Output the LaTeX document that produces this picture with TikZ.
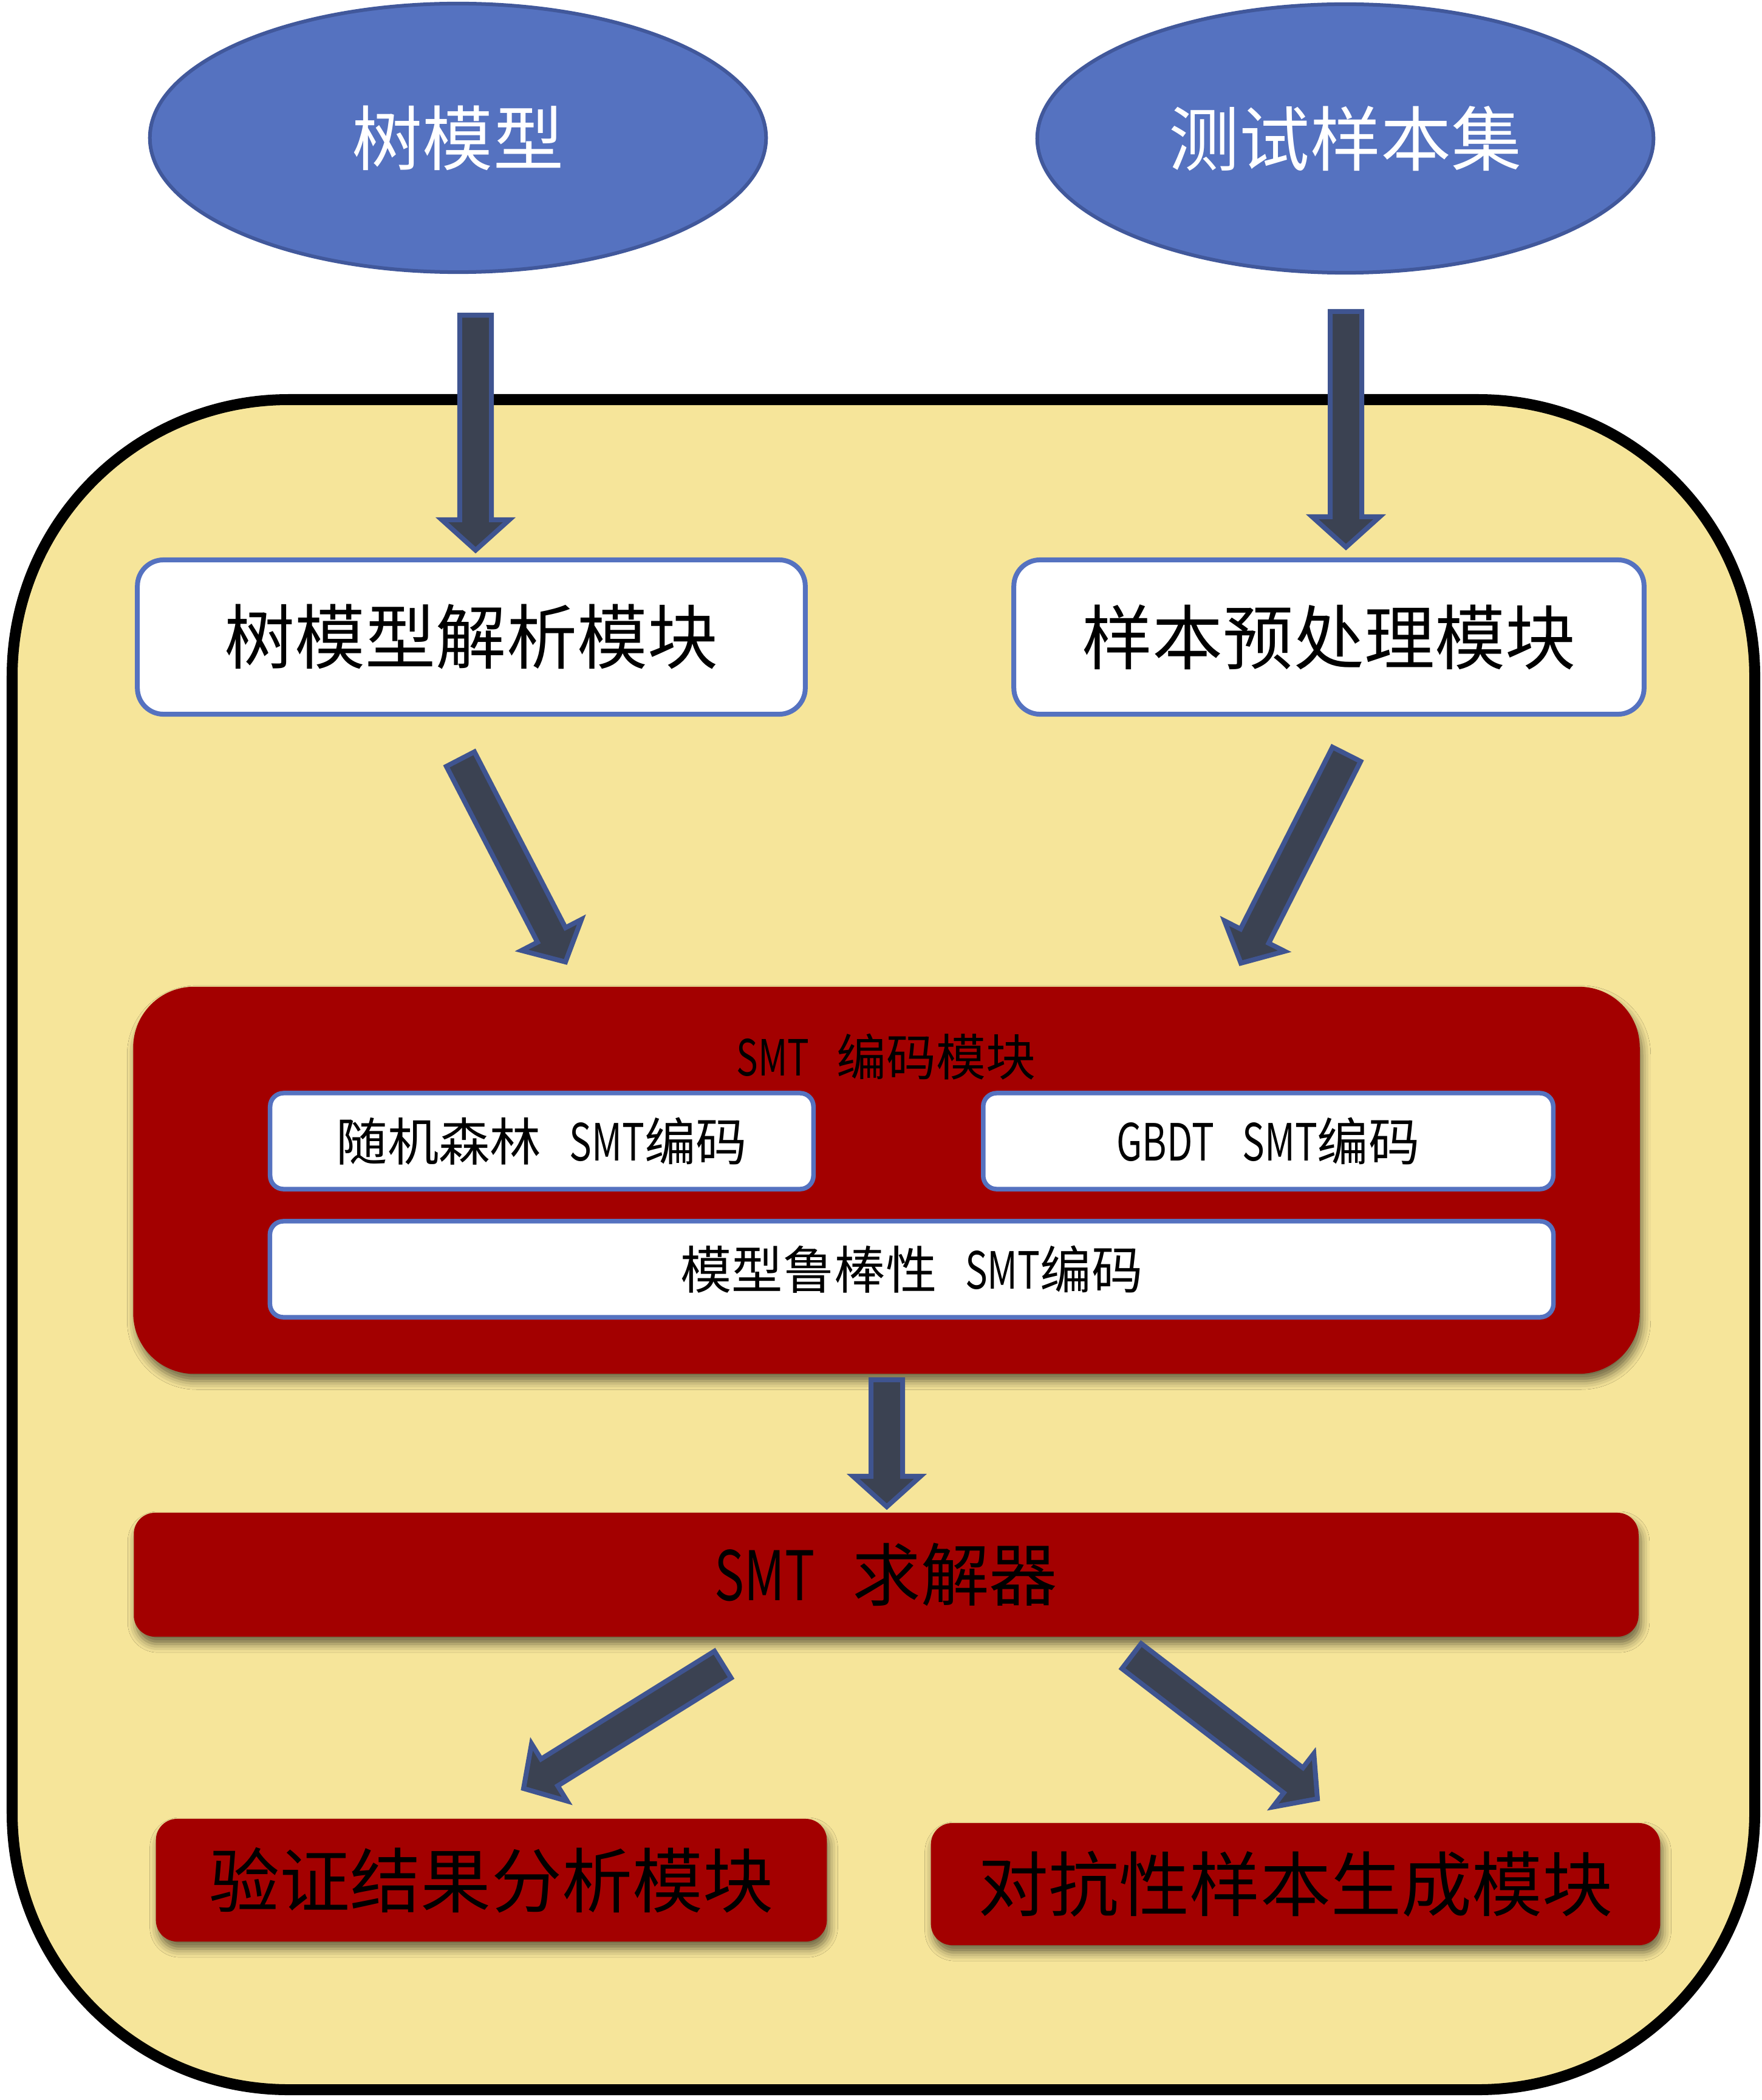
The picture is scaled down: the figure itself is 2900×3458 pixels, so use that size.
\documentclass[tikz,border=0pt]{standalone}
\usepackage{graphicx}
\usepackage{fontspec}
\setmainfont{Noto Sans CJK SC}
\usetikzlibrary{calc,shapes.geometric,shadows.blur}

\definecolor{panel}{HTML}{F6E59A}
\definecolor{deepred}{HTML}{A30000}
\definecolor{ellfill}{HTML}{5572C0}
\definecolor{ellline}{HTML}{41589B}
\definecolor{boxline}{HTML}{5572C0}
\definecolor{arrfill}{HTML}{3B4252}
\definecolor{arrline}{HTML}{3F5490}

% narrow Latin letters and the wide gap after them
\newcommand\narrowlat[1]{\scalebox{0.73}[1]{#1}}
\newcommand\latgap{\hspace{0.55em}}

% block arrow from tail coordinate #1 to tip coordinate #2
\newcommand\blockarrow[2]{%
  \coordinate (hb) at ($(#2)!0.5cm!(#1)$);
  \draw[blockarr] ($(#1)!0.26cm!90:(#2)$) -- ($(hb)!0.26cm!-90:(#1)$)
    -- ($(hb)!0.555cm!-90:(#1)$) -- (#2) -- ($(hb)!0.555cm!90:(#1)$)
    -- ($(hb)!0.26cm!90:(#1)$) -- ($(#1)!0.26cm!-90:(#2)$) -- cycle;}

\tikzset{
  blockarr/.style={fill=arrfill, draw=arrline, line width=0.08cm, line join=miter},
  ellnode/.style={ellipse, fill=ellfill, draw=ellline, line width=0.06cm,
    minimum width=10.14cm, minimum height=4.42cm, inner sep=0pt,
    text=white, font=\fontsize{33pt}{36pt}\selectfont},
  topbox/.style={rectangle, rounded corners=0.43cm, fill=white, draw=boxline,
    line width=0.08cm, minimum height=2.54cm, inner sep=0pt,
    font=\fontsize{33pt}{36pt}\selectfont},
  innerbox/.style={rectangle, rounded corners=0.22cm, fill=white, draw=boxline,
    line width=0.075cm, minimum height=1.58cm, inner sep=0pt,
    font=\fontsize{24pt}{27pt}\selectfont},
  redshadow/.style={blur shadow={shadow xshift=0.04cm, shadow yshift=-0.12cm,
    shadow blur radius=0.14cm, shadow opacity=55}},
  redbox/.style={rectangle, rounded corners=0.35cm, fill=deepred, redshadow,
    inner sep=0pt, font=\fontsize{33pt}{36pt}\selectfont},
}

\begin{document}
\begin{tikzpicture}[x=0.01cm, y=-0.01cm]
  \useasboundingbox (0,0) rectangle (2900,3458);

  % yellow system frame
  \draw[fill=panel, draw=black, line width=0.18cm, rounded corners=4.55cm]
    (20,658) rectangle (2889,3441);

  % inputs
  \node[ellnode] (model) at (754,227) {树模型};
  \node[ellnode] (samples) at (2215,228) {测试样本集};

  % arrows into the frame
  \coordinate (a1s) at (783,519);   \coordinate (a1e) at (783,906);
  \coordinate (a2s) at (2216,513);  \coordinate (a2e) at (2216,901);
  \blockarrow{a1s}{a1e}
  \blockarrow{a2s}{a2e}

  % preprocessing modules
  \node[topbox, minimum width=10.99cm] (parse) at (776,1049) {树模型解析模块};
  \node[topbox, minimum width=10.37cm] (prep) at (2188,1049) {样本预处理模块};

  \coordinate (a3s) at (758,1250);  \coordinate (a3e) at (931,1584);
  \coordinate (a4s) at (2217,1242); \coordinate (a4e) at (2043,1586);
  \blockarrow{a3s}{a3e}
  \blockarrow{a4s}{a4e}

  % SMT encoding module
  \node[rectangle, rounded corners=1cm, fill=deepred, redshadow,
    minimum width=24.79cm, minimum height=6.37cm, inner sep=0pt]
    (enc) at (1459.5,1943.5) {};
  \node[font=\fontsize{23.3pt}{26pt}\selectfont] (enctitle) at (1459,1740)
    {\narrowlat{SMT}\latgap 编码模块};
  \node[innerbox, minimum width=8.94cm] (rf) at (892,1879)
    {随机森林\latgap\narrowlat{SMT}编码};
  \node[innerbox, minimum width=9.38cm] (gbdt) at (2088,1879)
    {\narrowlat{GBDT}\latgap\narrowlat{SMT}编码};
  \node[innerbox, minimum width=21.12cm] (robust) at (1501,2090)
    {模型鲁棒性\latgap\narrowlat{SMT}编码};

  \coordinate (a5s) at (1460,2272); \coordinate (a5e) at (1460,2481);
  \blockarrow{a5s}{a5e}

  % solver
  \node[redbox, minimum width=24.76cm, minimum height=2.04cm,
    font=\fontsize{32pt}{35pt}\selectfont] (solver) at (1459,2593)
    {\narrowlat{SMT}\latgap 求解器};

  \coordinate (a6s) at (1190,2741); \coordinate (a6e) at (862,2945);
  \coordinate (a7s) at (1863,2727); \coordinate (a7e) at (2169,2962);
  \blockarrow{a6s}{a6e}
  \blockarrow{a7s}{a7e}

  % outputs
  \node[redbox, minimum width=11.04cm, minimum height=2.02cm] (verify)
    at (809,3096) {验证结果分析模块};
  \node[redbox, minimum width=12.00cm, minimum height=2.01cm] (adv)
    at (2133,3102.5) {对抗性样本生成模块};
\end{tikzpicture}
\end{document}
